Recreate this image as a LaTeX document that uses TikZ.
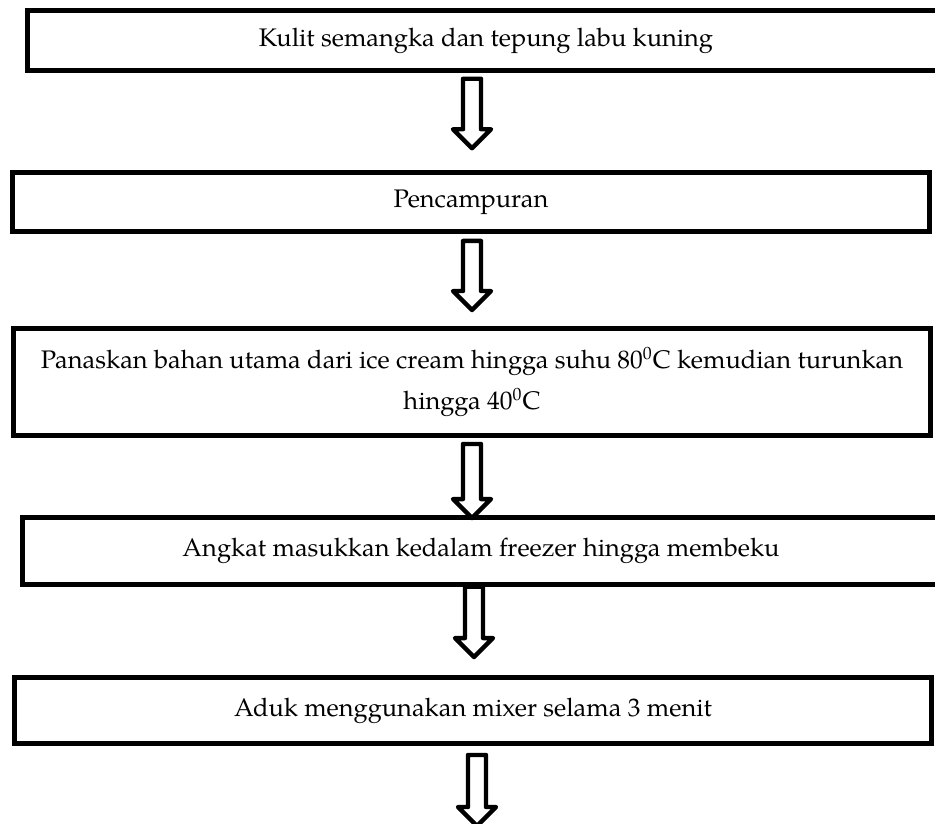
\documentclass[tikz,border=0pt]{standalone}
\usepackage{fontspec}
\setmainfont{texgyrepagella}[Extension=.otf, UprightFont=*-regular, BoldFont=*-bold, ItalicFont=*-italic, BoldItalicFont=*-bolditalic]
\usetikzlibrary{calc}
\newcommand\stepfont{\fontsize{12.7}{16}\selectfont}
\tikzset{
  stepbox/.style={draw=black, line width=2.25pt, fill=white, align=center, minimum width=458.5pt, inner sep=0pt, font=\stepfont},
  blockarrow/.style={draw=black, line width=2.2pt, fill=white, line join=round,
    to path={let \p1=(\tikztostart), \p2=(\tikztotarget) in
      (\x1-4.5pt,\y1) -- (\x1-4.5pt,\y2+9.5pt) -- (\x1-9.5pt,\y2+9.5pt) -- (\x1,\y2)
      -- (\x1+9.5pt,\y2+9.5pt) -- (\x1+4.5pt,\y2+9.5pt) -- (\x1+4.5pt,\y1) -- cycle}}
}
\begin{document}
\begin{tikzpicture}[x=0.5pt, y=-0.5pt]
\useasboundingbox (0,0) rectangle (935,823);
\clip (0,0) rectangle (935,823);
\fill[white] (0,0) rectangle (935,823);

\node[stepbox, minimum height=30pt] (kulit) at (486,40.5) {Kulit semangka dan tepung labu kuning};
\node[stepbox, minimum height=29.5pt] (campur) at (471,202) {Pencampuran};
\node[stepbox, minimum height=53.5pt] (panas) at (472,382) {Panaskan bahan utama dari ice cream hingga suhu 80\textsuperscript{0}C kemudian turunkan\\[4.5pt]hingga 40\textsuperscript{0}C};
\node[stepbox, minimum height=33.5pt] (angkat) at (481,551) {Angkat masukkan kedalam freezer hingga membeku};
\node[stepbox, minimum height=33pt] (aduk) at (473,710.5) {Aduk menggunakan mixer selama 3 menit};

\coordinate (axis) at (472,0);
\coordinate (end) at (477,826);

\draw[blockarrow] ([yshift=-3pt]kulit.south -| axis) to ([yshift=11pt]campur.north -| axis);
\draw[blockarrow] ([yshift=-3.6pt]campur.south -| axis) to ([yshift=8.1pt]panas.north -| axis);
\draw[blockarrow] ([yshift=-3.1pt]panas.south -| axis) to ([yshift=-1.4pt]angkat.north -| axis);
\draw[blockarrow] ([xshift=1pt]angkat.south -| axis) to ([xshift=1pt,yshift=9.1pt]aduk.north -| axis);
\draw[blockarrow] ([yshift=-4.6pt]aduk.south -| end) to (end);
\end{tikzpicture}
\end{document}
